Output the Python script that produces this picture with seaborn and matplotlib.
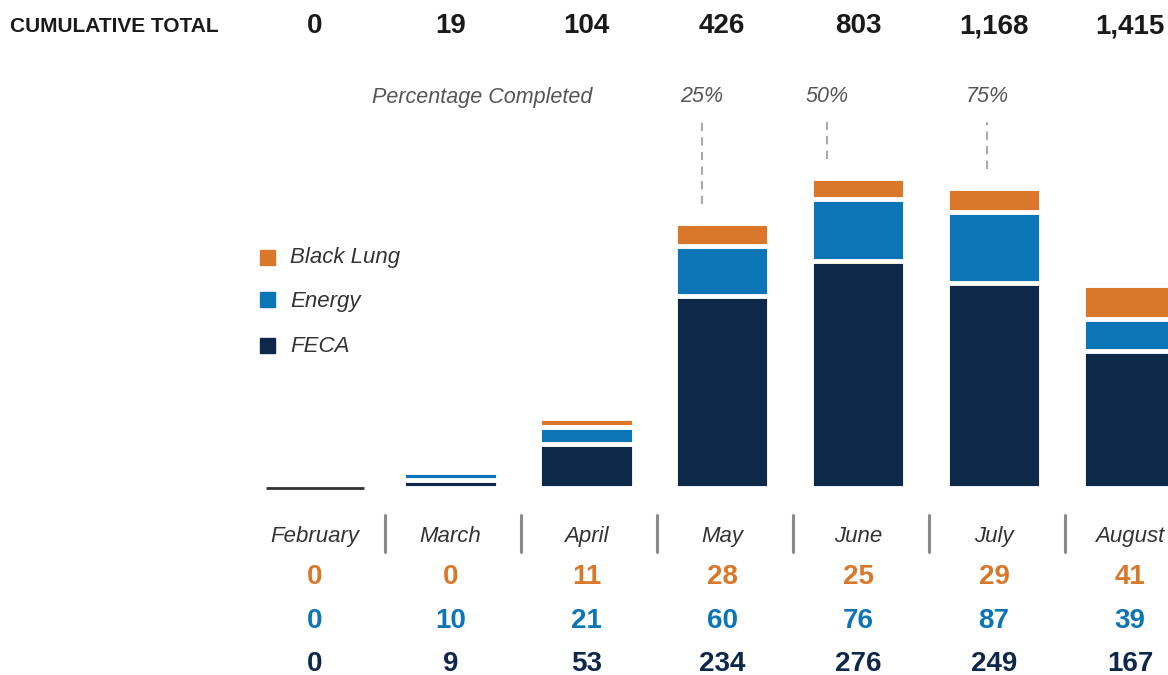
import numpy as np
import pandas as pd
import matplotlib
matplotlib.use("Agg")
import matplotlib.pyplot as plt
import matplotlib.transforms as mtransforms
import seaborn as sns

# data
months = ["February", "March", "April", "May", "June", "July", "August"]
black_lung = [0, 0, 11, 28, 25, 29, 41]
energy = [0, 10, 21, 60, 76, 87, 39]
feca = [0, 9, 53, 234, 276, 249, 167]
cumulative = [0, 19, 104, 426, 803, 1168, 1415]
pct_labels = ["25%", "50%", "75%"]
pct_month = [3, 4, 5]          # bar the marker line stands over
pct_pos = [2.85, 3.77, 4.95]   # x position of each marker

ORANGE = "#D9782A"
BLUE = "#0C75B6"
NAVY = "#0E2849"
GRAY = "#333333"

sns.set_style("white")
plt.rcParams["font.family"] = ["Liberation Sans", "DejaVu Sans"]

df = pd.DataFrame({"month": months, "bl": black_lung, "en": energy, "fe": feca})
df["mid"] = df["en"] + df["fe"]
df["total"] = df["bl"] + df["mid"]

fig = plt.figure(figsize=(11.68, 6.75), dpi=100)
W, H = 1168, 675
base_px = 487.5
scale = 0.82   # px per unit
ax_h = 385
ax = fig.add_axes([248 / W, (H - base_px) / H, (W - 248) / W, ax_h / H])

# layered bars: total, then energy+feca, then feca on top
for col, c in [("total", ORANGE), ("mid", BLUE), ("fe", NAVY)]:
    sns.barplot(data=df, x="month", y=col, order=months, color=c, saturation=1,
                width=0.695, edgecolor="white", linewidth=3.5, errorbar=None, ax=ax)

# zero months get a thin baseline
for i, t in enumerate(df["total"]):
    if t == 0:
        ax.hlines(0, i - 0.36, i + 0.36, color=GRAY, lw=2, clip_on=False)

ax.set_xlim(-0.49, 6.28)
ax.set_ylim(0, ax_h / scale)
ax.axis("off")

tr = mtransforms.blended_transform_factory(ax.transData, fig.transFigure)
fy = lambda px: 1 - px / H

# percentage markers
ax.text(1.23, fy(97), "Percentage Completed", transform=tr, ha="center", va="center",
        style="italic", fontsize=15.5, color="#555555")
for lab, m, x in zip(pct_labels, pct_month, pct_pos):
    ax.text(x, fy(97), lab, transform=tr, ha="center", va="center",
            style="italic", fontsize=15.5, color="#555555")
    top = df["total"][m] + 24
    ax.plot([x, x], [top, (base_px - 122) / scale], color="#AAAAAA", lw=1.5,
            ls=(0, (4, 3)), clip_on=False)

# legend
for lab, c, y in [("Black Lung", ORANGE, 257), ("Energy", BLUE, 300), ("FECA", NAVY, 345)]:
    fig.patches.append(plt.Rectangle((260 / W, fy(y + 7.5)), 15 / W, 15 / H,
                                     transform=fig.transFigure, color=c))
    fig.text(290 / W, fy(y + 1), lab, ha="left", va="center", style="italic",
             fontsize=16, color=GRAY)

# header row
fig.text(10 / W, fy(27), "CUMULATIVE TOTAL", ha="left", va="center",
         fontweight="bold", fontsize=15, color="#1a1a1a")
for i, v in enumerate(cumulative):
    ax.text(i, fy(26), f"{v:,}", transform=tr, ha="center", va="center",
            fontweight="bold", fontsize=20, color="#1a1a1a")

# month labels, separators and value rows
for i, m in enumerate(months):
    ax.text(i, fy(542), m, transform=tr, ha="center", va="baseline",
            style="italic", fontsize=16, color=GRAY)
    ax.text(i, fy(577), str(black_lung[i]), transform=tr, ha="center", va="center",
            fontweight="bold", fontsize=20, color=ORANGE)
    ax.text(i, fy(621), str(energy[i]), transform=tr, ha="center", va="center",
            fontweight="bold", fontsize=20, color=BLUE)
    ax.text(i, fy(664), str(feca[i]), transform=tr, ha="center", va="center",
            fontweight="bold", fontsize=20, color=NAVY)
    if i < len(months) - 1:
        ax.plot([i + 0.52, i + 0.52], [fy(515), fy(552)], transform=tr,
                color="#8a8a8a", lw=2.2, clip_on=False)

fig.savefig("out.png", dpi=100)
